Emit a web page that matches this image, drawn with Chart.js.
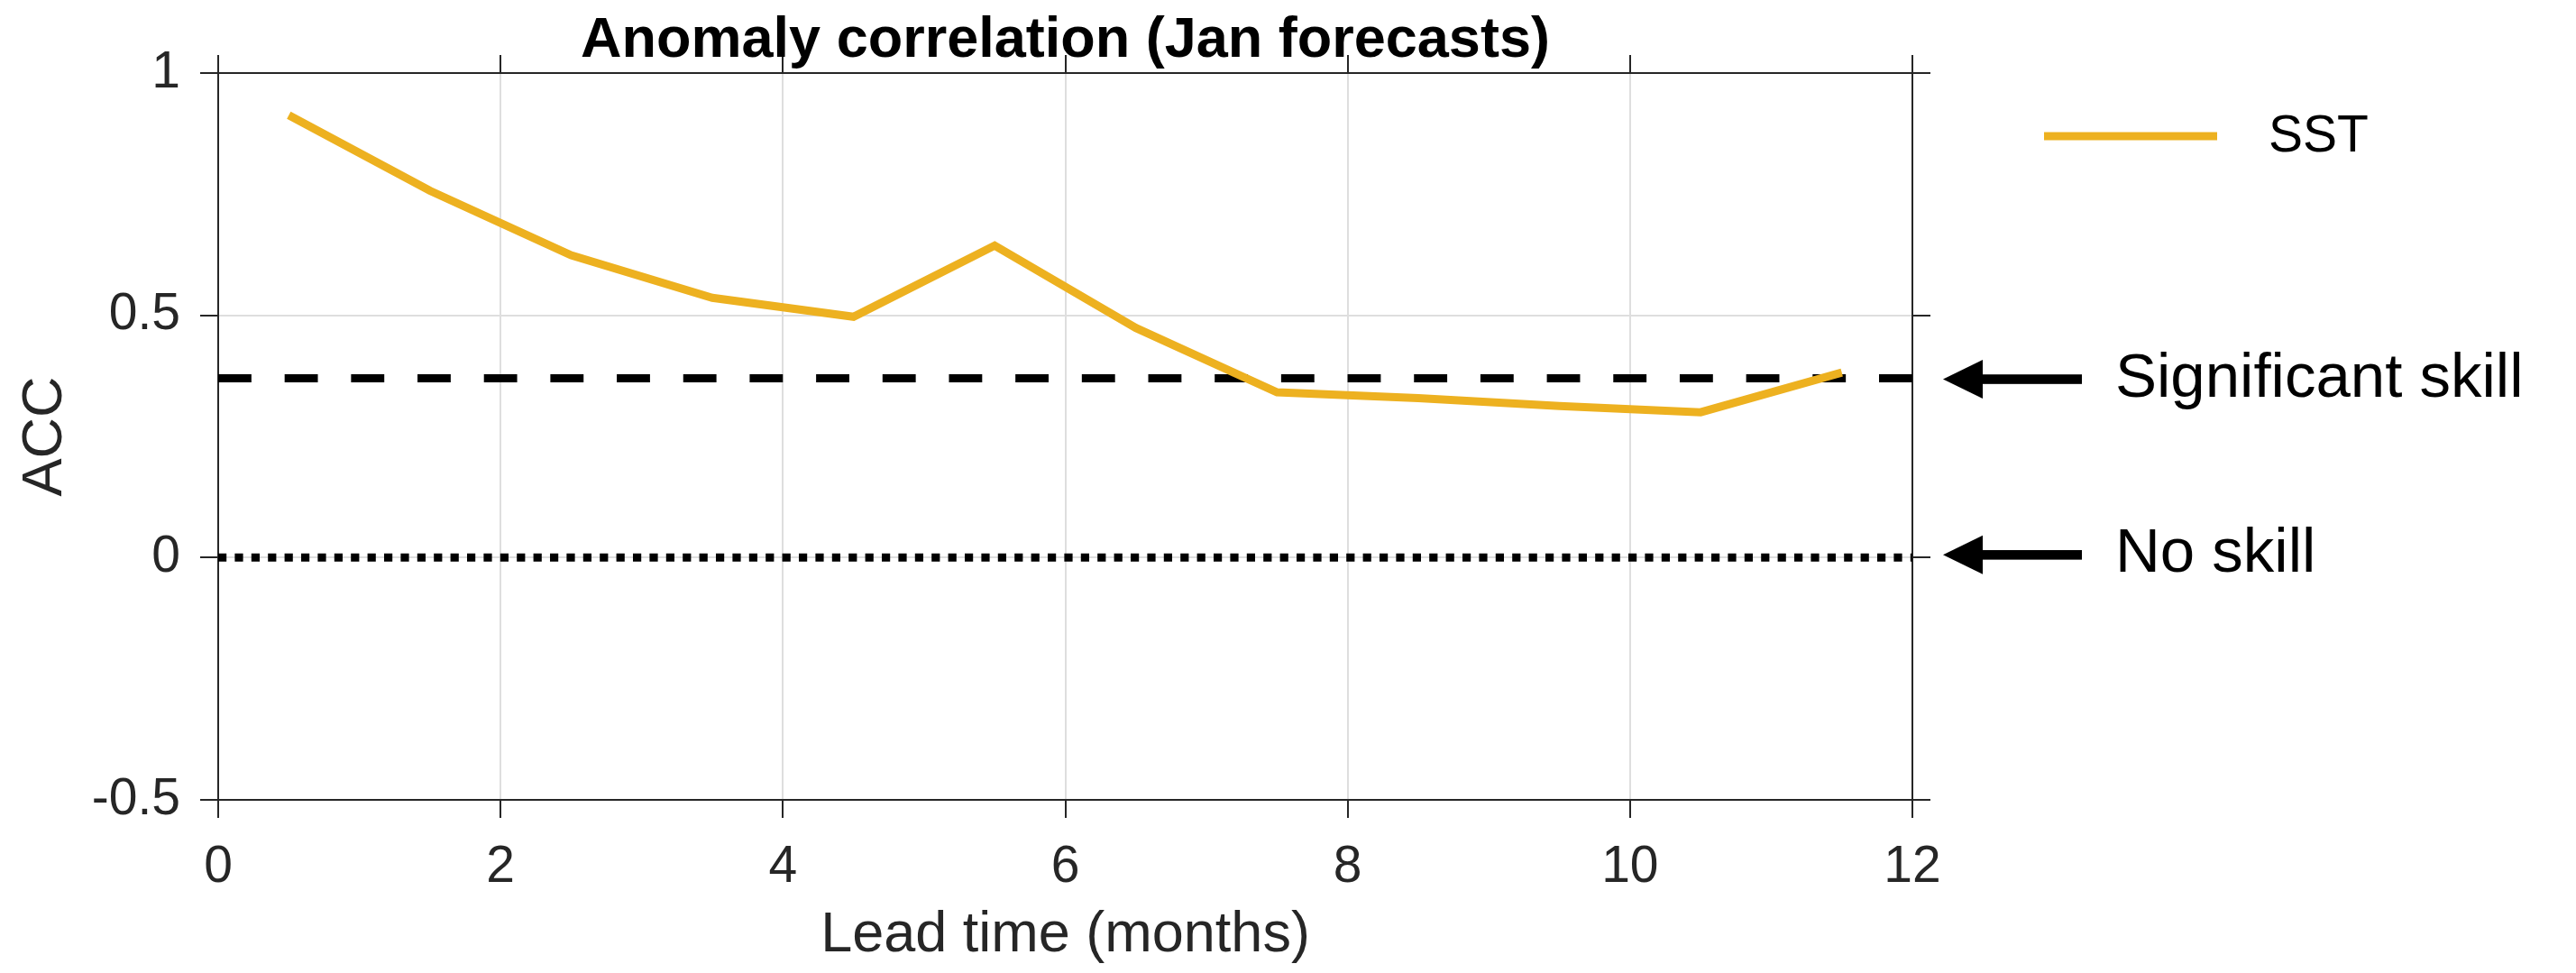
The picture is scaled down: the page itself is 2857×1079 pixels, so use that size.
<!DOCTYPE html>
<html>
<head>
<meta charset="utf-8">
<title>Anomaly correlation (Jan forecasts)</title>
<script src="https://cdn.jsdelivr.net/npm/chart.js@4.4.1/dist/chart.umd.min.js"></script>
<style>
  html, body { margin: 0; padding: 0; background: #ffffff; }
  #wrap { width: 2857px; height: 1079px; }
</style>
</head>
<body>
<div id="wrap"><canvas id="acc" width="2857" height="1079"></canvas></div>
<script>
// Lead times (months) and anomaly correlation of the SST forecasts
const leadTime = [0.5, 1.5, 2.5, 3.5, 4.5, 5.5, 6.5, 7.5, 8.5, 9.5, 10.5, 11.5];
const accSST   = [0.913, 0.757, 0.624, 0.536, 0.497, 0.644, 0.474, 0.341, 0.329, 0.313, 0.300, 0.382];

// Reference skill levels
const sigLevel = 0.37;
const noSkillLevel = 0;

// Axis ticks
const xTicks = [0, 2, 4, 6, 8, 10, 12];
const xTickLabels = ['0', '2', '4', '6', '8', '10', '12'];
const yTicks = [-0.5, 0, 0.5, 1];
const yTickLabels = ['-0.5', '0', '0.5', '1'];

const FONT = '"Liberation Sans", Arial, Helvetica, sans-serif';
const AXIS_COLOR = '#262626';
const GRID_COLOR = '#dedede';
const SST_COLOR = '#EDB120';

const xMin = xTicks[0], xMax = xTicks[xTicks.length - 1];
const yMin = yTicks[0], yMax = yTicks[yTicks.length - 1];

function gridColorFor(lo, hi) {
  return ctx => (ctx.tick && (ctx.tick.value === lo || ctx.tick.value === hi)) ? 'rgba(0,0,0,0)' : GRID_COLOR;
}
function setTicks(values) {
  return scale => { scale.ticks = values.map(v => ({ value: v })); };
}

// Title, legend and the arrow labels for the reference lines
const decorations = {
  id: 'decorations',
  afterDraw(chart) {
    const { ctx, chartArea } = chart;
    const yScale = chart.scales.y;
    const R = chartArea.right;
    ctx.save();

    // title
    ctx.fillStyle = '#000000';
    ctx.font = 'bold 63px ' + FONT;
    ctx.textAlign = 'center';
    ctx.textBaseline = 'alphabetic';
    ctx.fillText('Anomaly correlation (Jan forecasts)', (chartArea.left + chartArea.right) / 2, chartArea.top - 18);

    // legend
    const ly = chartArea.top + 70;
    ctx.strokeStyle = SST_COLOR;
    ctx.lineWidth = 9;
    ctx.lineCap = 'butt';
    ctx.beginPath();
    ctx.moveTo(R + 146, ly);
    ctx.lineTo(R + 338, ly);
    ctx.stroke();
    ctx.fillStyle = '#000000';
    ctx.font = '57px ' + FONT;
    ctx.textAlign = 'left';
    ctx.textBaseline = 'middle';
    ctx.fillText(chart.data.datasets[0].label, R + 395, ly + 1);

    // arrows and labels
    const marks = [
      { text: 'Significant skill', value: sigLevel, dy: 1 },
      { text: 'No skill', value: noSkillLevel, dy: -3 }
    ];
    ctx.font = '69px ' + FONT;
    marks.forEach(m => {
      const y = yScale.getPixelForValue(m.value) + m.dy;
      ctx.fillStyle = '#000000';
      ctx.beginPath();
      ctx.moveTo(R + 34, y);
      ctx.lineTo(R + 78, y - 21.5);
      ctx.lineTo(R + 78, y + 21.5);
      ctx.closePath();
      ctx.fill();
      ctx.fillRect(R + 77, y - 5.3, 111, 10.6);
      ctx.fillText(m.text, R + 225, y);
    });
    ctx.restore();
  }
};

new Chart(document.getElementById('acc'), {
  type: 'line',
  data: {
    datasets: [
      {
        label: 'SST',
        data: leadTime.map((x, i) => ({ x: x, y: accSST[i] })),
        borderColor: SST_COLOR,
        borderWidth: 9,
        pointRadius: 0,
        tension: 0,
        order: 0
      },
      {
        label: 'Significant skill',
        data: [{ x: xMin, y: sigLevel }, { x: xMax, y: sigLevel }],
        borderColor: '#000000',
        borderWidth: 9,
        borderDash: [36.84, 36.84],
        pointRadius: 0,
        order: 1
      },
      {
        label: 'No skill',
        data: [{ x: xMin, y: noSkillLevel }, { x: xMax, y: noSkillLevel }],
        borderColor: '#000000',
        borderWidth: 9,
        borderDash: [9.2, 9.2],
        pointRadius: 0,
        order: 2
      }
    ]
  },
  options: {
    responsive: false,
    animation: false,
    devicePixelRatio: 1,
    layout: { autoPadding: false, padding: { left: 0, right: 716, top: 61, bottom: 0 } },
    plugins: {
      legend: { display: false },
      title: { display: false },
      tooltip: { enabled: false }
    },
    scales: {
      x: {
        type: 'linear', position: 'bottom', min: xMin, max: xMax,
        afterBuildTicks: setTicks(xTicks),
        afterFit: s => { s.height = 192; },
        grid: { color: gridColorFor(xMin, xMax), lineWidth: 2, tickLength: 20, tickColor: AXIS_COLOR, tickWidth: 2 },
        border: { display: true, color: AXIS_COLOR, width: 2 },
        ticks: {
          color: AXIS_COLOR, padding: 21, maxRotation: 0, autoSkip: false,
          font: { family: FONT, size: 57 },
          callback: (v, i) => xTickLabels[i]
        },
        title: {
          display: true, text: 'Lead time (months)', color: AXIS_COLOR,
          font: { family: FONT, size: 63 }, padding: { top: 0, bottom: 4 }
        }
      },
      y: {
        type: 'linear', position: 'left', min: yMin, max: yMax,
        afterBuildTicks: setTicks(yTicks),
        afterFit: s => { s.width = 242; },
        grid: { color: gridColorFor(yMin, yMax), lineWidth: 2, tickLength: 20, tickColor: AXIS_COLOR, tickWidth: 2 },
        border: { display: true, color: AXIS_COLOR, width: 2 },
        ticks: {
          color: AXIS_COLOR, padding: 22, autoSkip: false,
          font: { family: FONT, size: 57 },
          callback: (v, i) => yTickLabels[i]
        },
        title: {
          display: true, text: 'ACC', color: AXIS_COLOR,
          font: { family: FONT, size: 63 }, padding: { top: 13, bottom: 0 }
        }
      },
      x2: {
        type: 'linear', position: 'top', min: xMin, max: xMax, display: true,
        afterBuildTicks: setTicks(xTicks),
        afterFit: s => { s.height = 20; },
        grid: { drawOnChartArea: false, lineWidth: 2, tickLength: 20, tickColor: AXIS_COLOR, tickWidth: 2 },
        border: { display: true, color: AXIS_COLOR, width: 2 },
        ticks: { display: false }
      },
      y2: {
        type: 'linear', position: 'right', min: yMin, max: yMax, display: true,
        afterBuildTicks: setTicks(yTicks),
        afterFit: s => { s.width = 20; },
        grid: { drawOnChartArea: false, lineWidth: 2, tickLength: 20, tickColor: AXIS_COLOR, tickWidth: 2 },
        border: { display: true, color: AXIS_COLOR, width: 2 },
        ticks: { display: false }
      }
    }
  },
  plugins: [decorations]
});
</script>
</body>
</html>
